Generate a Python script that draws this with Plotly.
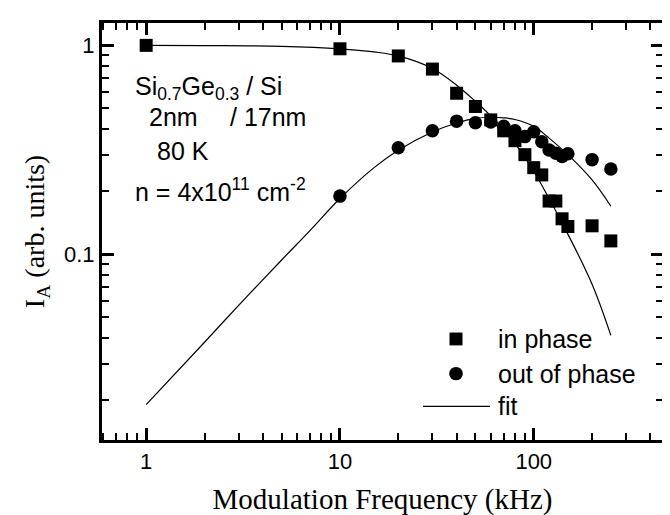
import plotly.graph_objects as go

# ---- data ----
f_in = [1, 10, 20, 30, 40, 50, 60, 70, 80, 90, 100, 110, 120, 130, 140, 150, 200, 250]
i_in = [1.0, 0.963, 0.89, 0.77, 0.59, 0.51, 0.44, 0.39, 0.35, 0.30, 0.26, 0.24, 0.18, 0.18, 0.148, 0.136, 0.137, 0.116]

f_out = [10, 20, 30, 40, 50, 60, 70, 80, 90, 100, 110, 120, 130, 140, 150, 200, 250]
i_out = [0.19, 0.324, 0.39, 0.434, 0.426, 0.43, 0.41, 0.39, 0.366, 0.386, 0.346, 0.316, 0.305, 0.294, 0.303, 0.284, 0.256]

f_fit_in = [1, 2, 5, 10, 15, 20, 30, 40, 50, 60, 70, 80, 100, 120, 150, 200, 250]
i_fit_in = [1.0, 0.998, 0.99, 0.963, 0.93, 0.89, 0.775, 0.645, 0.54, 0.46, 0.395, 0.34, 0.25, 0.185, 0.125, 0.072, 0.041]

f_fit_out = [1, 2, 3, 5, 7, 10, 15, 20, 30, 40, 50, 60, 70, 80, 100, 120, 150, 200, 250]
i_fit_out = [0.0191, 0.038, 0.057, 0.094, 0.13, 0.185, 0.26, 0.315, 0.385, 0.425, 0.447, 0.453, 0.45, 0.442, 0.41, 0.36, 0.30, 0.227, 0.17]

x_ticks = [1, 10, 100]
x_ticktext = ["1", "10", "100"]
x_minor = [0.6, 0.7, 0.8, 0.9, 2, 3, 4, 5, 6, 7, 8, 9, 20, 30, 40, 50, 60, 70, 80, 90, 200, 300, 400]
y_ticks = [0.1, 1]
y_ticktext = ["0.1", "1"]
y_minor = [0.02, 0.03, 0.04, 0.05, 0.06, 0.07, 0.08, 0.09, 0.2, 0.3, 0.4, 0.5, 0.6, 0.7, 0.8, 0.9]

legend_labels = ["in phase", "out of phase", "fit"]

SANS = "Liberation Sans, Arial, sans-serif"
SERIF = "Liberation Serif, Times New Roman, serif"

fig = go.Figure()
fig.add_trace(go.Scatter(x=f_fit_in, y=i_fit_in, mode="lines", line=dict(color="black", width=1.2),
                         name="fit", showlegend=False, line_shape="spline"))
fig.add_trace(go.Scatter(x=f_fit_out, y=i_fit_out, mode="lines", line=dict(color="black", width=1.2),
                         name="fit", showlegend=False, line_shape="spline"))
fig.add_trace(go.Scatter(x=f_in, y=i_in, mode="markers", name="in phase", showlegend=False,
                         marker=dict(symbol="square", size=13, color="black")))
fig.add_trace(go.Scatter(x=f_out, y=i_out, mode="markers", name="out of phase", showlegend=False,
                         marker=dict(symbol="circle", size=13.5, color="black")))

axis_common = dict(showline=True, linewidth=3, linecolor="black", mirror="allticks",
                   ticks="inside", ticklen=12, tickwidth=2.6, tickcolor="black",
                   showgrid=False, zeroline=False,
                   tickfont=dict(family=SANS, size=22, color="black"))

fig.update_xaxes(type="log", range=[-0.228, 2.667], tickvals=x_ticks, ticktext=x_ticktext,
                 minor=dict(tickvals=x_minor, ticks="inside", ticklen=7, tickwidth=2.4, tickcolor="black", showgrid=False),
                 title=dict(text="Modulation Frequency (kHz)", font=dict(family=SERIF, size=29, color="black"), standoff=16),
                 **axis_common)
fig.update_yaxes(type="log", range=[-1.888, 0.107], tickvals=y_ticks, ticktext=y_ticktext,
                 minor=dict(tickvals=y_minor, ticks="inside", ticklen=7, tickwidth=2.4, tickcolor="black", showgrid=False),
                 title=dict(text="I<sub>A</sub> (arb. units)", font=dict(family=SERIF, size=28, color="black"), standoff=12),
                 **axis_common)

L, R, T, B = 94, 655, 12, 433
def px(x):
    return (x - L) / (R - L)
def py(y):
    return (B - y) / (B - T)

ann_font = dict(family=SANS, size=25, color="black")
for text, x, y in [
    ("Si<sub>0.7</sub>Ge<sub>0.3</sub> / Si", 125, 78),
    ("2nm", 139, 107),
    ("/ 17nm", 220, 107),
    ("80 K", 147, 141),
    ("n = 4x10<sup>11</sup> cm<sup>-2</sup>", 125, 181),
]:
    fig.add_annotation(text=text, x=px(x), y=py(y), xref="paper", yref="paper",
                       xanchor="left", yanchor="middle", showarrow=False, font=ann_font)

# ---- legend (symbols + labels) ----
leg_rows = [331, 366, 399]
mx = 448
fig.add_shape(type="rect", xref="paper", yref="paper",
              x0=px(mx - 6.5), x1=px(mx + 6.5), y0=py(leg_rows[0] + 6.5), y1=py(leg_rows[0] - 6.5),
              fillcolor="black", line=dict(width=0))
fig.add_shape(type="circle", xref="paper", yref="paper",
              x0=px(mx - 6.8), x1=px(mx + 6.8), y0=py(leg_rows[1] + 6.8), y1=py(leg_rows[1] - 6.8),
              fillcolor="black", line=dict(width=0))
fig.add_shape(type="line", xref="paper", yref="paper",
              x0=px(415), x1=px(482), y0=py(leg_rows[2]), y1=py(leg_rows[2]),
              line=dict(color="black", width=1.2))
for label, y in zip(legend_labels, leg_rows):
    fig.add_annotation(text=label, x=px(488), y=py(y), xref="paper", yref="paper",
                       xanchor="left", yanchor="middle", showarrow=False, font=ann_font)

fig.update_layout(
    width=670, height=515,
    margin=dict(l=L, r=670 - R, t=T, b=515 - B),
    paper_bgcolor="white", plot_bgcolor="white",
    showlegend=False,
)

fig.write_html("out.html")
